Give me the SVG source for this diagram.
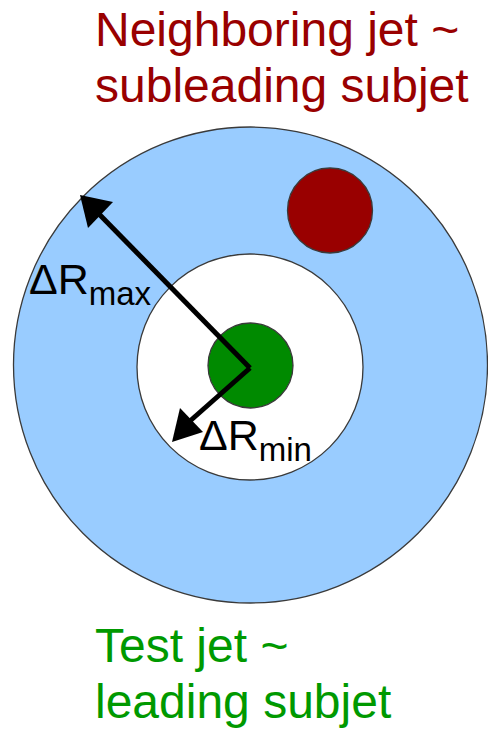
<svg xmlns="http://www.w3.org/2000/svg" width="488" height="731" viewBox="0 0 488 731">
<style>
.ring{stroke:#3a3a3a;stroke-width:1.3}
.t{font-family:"Liberation Sans",Arial,sans-serif;font-size:48px}
.lab{font-family:"Liberation Sans",Arial,sans-serif;fill:#000}
.arr{stroke:#000;stroke-width:5;fill:none}
.head{fill:#000;stroke:none}
</style>
<rect width="488" height="731" fill="#fff"/>
<g id="outer-region">
<ellipse class="ring" cx="250.5" cy="365" rx="237" ry="238" fill="#99ccff"/>
</g>
<g id="inner-region">
<circle class="ring" cx="250" cy="367" r="113" fill="#fff"/>
</g>
<g id="test-jet">
<circle class="ring" cx="250.5" cy="365.5" r="42.5" fill="#008a00"/>
</g>
<g id="neighboring-jet">
<circle class="ring" cx="330" cy="210.5" r="42.5" fill="#990000"/>
</g>
<g id="connectors">
<line class="arr" x1="250" y1="368" x2="99" y2="214"/>
<polygon class="head" points="80,195 113,202 88,228"/>
<line class="arr" x1="250" y1="368" x2="190" y2="421"/>
<polygon class="head" points="172,442 180,408 203,432"/>
</g>
<g id="label-drmax">
<text class="lab" x="29" y="294" font-size="43">ΔR<tspan font-size="33" dy="11">max</tspan></text>
</g>
<g id="label-drmin">
<text class="lab" x="199" y="450" font-size="43">ΔR<tspan font-size="33" dy="11">min</tspan></text>
</g>
<g id="title-neighboring">
<text class="t" x="95" y="46" fill="#990000">Neighboring jet ~</text>
<text class="t" x="95" y="102" fill="#990000">subleading subjet</text>
</g>
<g id="title-test">
<text class="t" x="95" y="662" fill="#009900">Test jet ~</text>
<text class="t" x="95" y="718" fill="#009900">leading subjet</text>
</g>
</svg>
